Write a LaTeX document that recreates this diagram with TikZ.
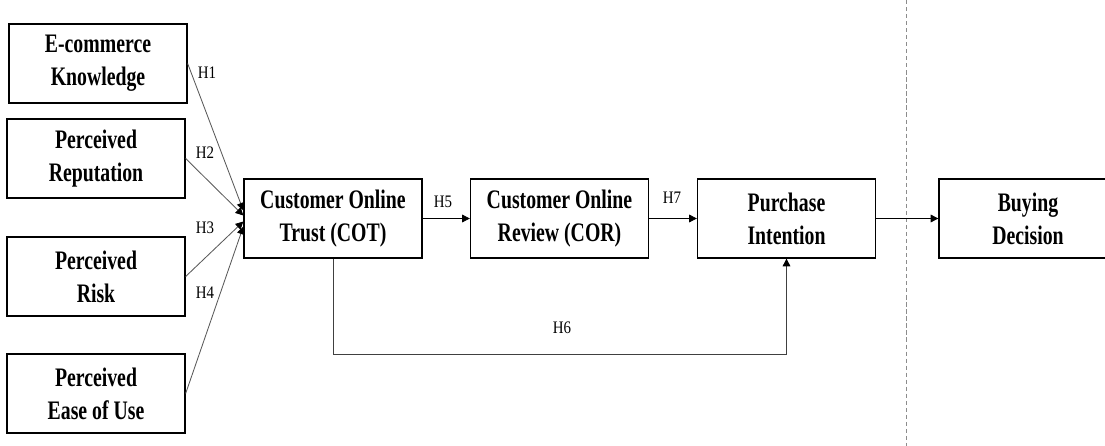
\documentclass[tikz,border=0pt]{standalone}
\usepackage{fontspec}
\setmainfont{Liberation Serif}
\newfontfamily\boxfont[FakeStretch=0.74]{Liberation Serif}
\newfontfamily\hypfont[FakeStretch=0.85]{Liberation Serif}
\usetikzlibrary{arrows.meta,calc}

\tikzset{
  construct/.style={draw, line width=0.9pt, minimum width=4.45cm, minimum height=1.975cm,
    inner sep=0pt, align=center, font=\boxfont\bfseries\fontsize{19}{23.5}\selectfont},
  hyp/.style={inner sep=1pt, font=\hypfont\fontsize{12.5}{14}\selectfont},
  link/.style={-{Triangle[length=5.5pt,width=5.5pt,color=black]}, line width=0.6pt},
  fan/.style={link, draw=black!65},
}

\begin{document}
\begin{tikzpicture}[x=0.025cm, y=-0.025cm]

      \clip (0,0) rectangle (1105,446); % page frame

      \node[construct] (ek)   at (98,63.5)   {E-commerce\\Knowledge};
      \node[construct] (rep)  at (96,158.5)  {Perceived\\Reputation};
      \node[construct] (risk) at (96,276.5)  {Perceived\\Risk};
      \node[construct] (ease) at (96,393.5)  {Perceived\\Ease of Use};

      \node[construct] (cot) at (333,218.5)    {Customer Online\\Trust (COT)};
      \node[construct] (cor) at (559.5,218.5)  {Customer Online\\Review (COR)};
      \node[construct] (pi)  at (786.5,218.5)  {Purchase\\Intention};
      \node[construct] (bd)  at (1028,218.5)   {Buying\\Decision};

      \draw[densely dashed, black!45, line width=0.6pt] (906,0) -- (906,446); % separator

      \foreach \src/\dy in {ek/-8, rep/-3, risk/3, ease/8} {
          \draw[fan] (\src.east) -- ($(cot.west)+(0,\dy)$);
      }

      \node[hyp] (h1) at (207,73)  {H1};
      \node[hyp] (h2) at (205,153) {H2};
      \node[hyp] (h3) at (205,228) {H3};
      \node[hyp] (h4) at (205,293) {H4};

      \draw[link] (cot.east) -- (cor.west);
      \node[hyp] (h5) at (443,202) {H5};

      \draw[link] (cor.east) -- (pi.west);
      \node[hyp] (h7) at (672,198) {H7};

      \draw[link, draw=black!75] (cot.south) -- ++(0,96) -| (pi.south);
      \node[hyp] (h6) at (562,328) {H6};

      \draw[link] (pi.east) -- (bd.west);

\end{tikzpicture}
\end{document}
